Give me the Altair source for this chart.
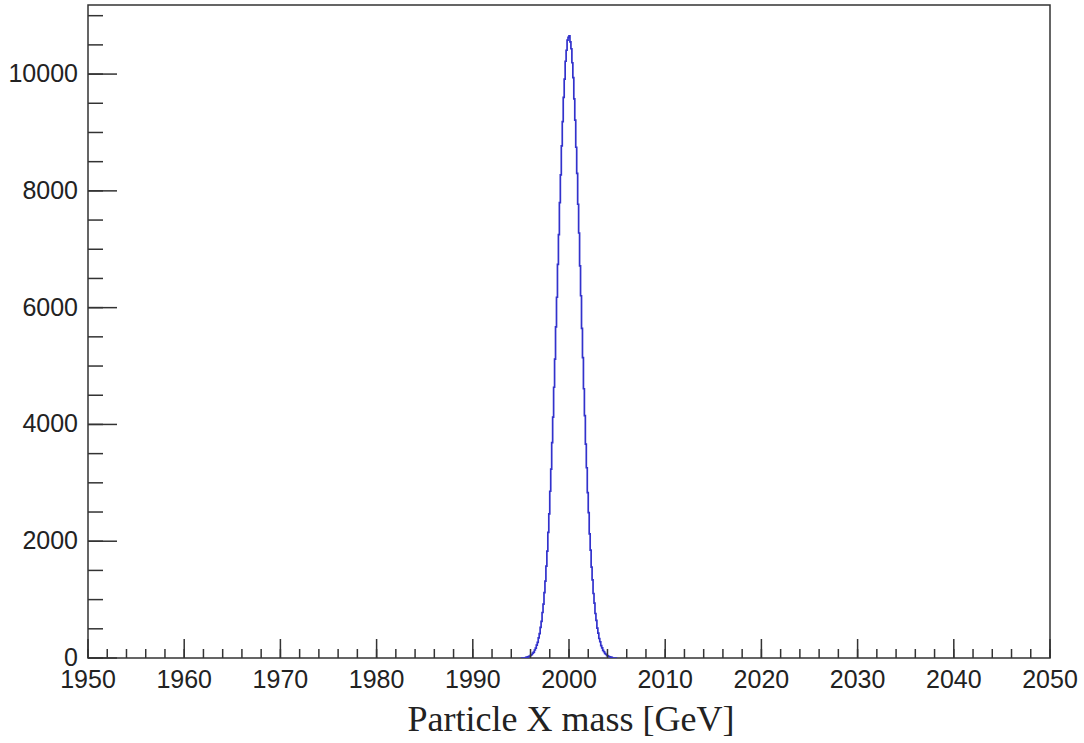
import altair as alt
import pandas as pd

# ---- data ----
first_edge = 1995.5
bin_width = 0.1
counts = [
    10, 16, 19, 29, 34, 49, 60, 84, 101, 137,
    168, 220, 268, 345, 416, 525, 628, 779, 922, 1121,
    1318, 1574, 1829, 2151, 2467, 2856, 3236, 3690, 4126, 4637,
    5118, 5671, 6178, 6742, 7251, 7798, 8274, 8772, 9185, 9601,
    9915, 10220, 10408, 10580, 10628,
    10655, 10553, 10434, 10194, 9940, 9574, 9211, 8747, 8299, 7771,
    7278, 6715, 6204, 5644, 5145, 4611, 4150, 3664, 3258, 2831,
    2488, 2127, 1848, 1555, 1337, 1105, 940, 762, 643, 512,
    427, 334, 278, 211, 175, 131, 107, 78, 64, 45,
    38, 25, 21, 14, 9,
]
x_major = [1950, 1960, 1970, 1980, 1990, 2000, 2010, 2020, 2030, 2040, 2050]
x_minor = [v for v in range(1950, 2051, 2)]
y_major = [0, 2000, 4000, 6000, 8000, 10000]
y_minor = [v for v in range(0, 11001, 500)]
x_domain = [1950, 2050]
y_domain = [0, 11183]
x_title = "Particle X mass [GeV]"

# ---- build the histogram outline ----
xs = [first_edge - 0.5] + [round(first_edge + bin_width * i, 2) for i in range(len(counts) + 1)] + [first_edge + bin_width * len(counts) + 0.5]
ys = [0] + counts + [0, 0]
hist = pd.DataFrame({"mass": xs, "count": ys})

xs_scale = alt.Scale(domain=x_domain, nice=False, zero=False)
ys_scale = alt.Scale(domain=y_domain, nice=False, zero=False)

axis_col = "#333333"
text_col = "#222222"
label_font = "Liberation Sans"
W, H = 962, 653

line = alt.Chart(hist).mark_line(
    interpolate="step-after", color="#3232cc", strokeWidth=1.7, clip=True
).encode(
    x=alt.X("mass:Q", scale=xs_scale, axis=None),
    y=alt.Y("count:Q", scale=ys_scale, axis=None),
)

def xticks(vals, length):
    df = pd.DataFrame({"tx": vals})
    return alt.Chart(df).mark_rule(color=axis_col, strokeWidth=1.5).encode(
        x=alt.X("tx:Q", scale=xs_scale, axis=None),
        y=alt.value(H), y2=alt.value(H - length),
    )

def yticks(vals, length):
    df = pd.DataFrame({"ty": vals})
    return alt.Chart(df).mark_rule(color=axis_col, strokeWidth=1.5).encode(
        y=alt.Y("ty:Q", scale=ys_scale, axis=None),
        x=alt.value(0), x2=alt.value(length),
    )

xlab = alt.Chart(pd.DataFrame({"lx": x_major, "txt": [str(v) for v in x_major]})).mark_text(
    font=label_font, fontSize=25, color=text_col, align="center", baseline="alphabetic"
).encode(
    x=alt.X("lx:Q", scale=xs_scale, axis=None),
    y=alt.value(H + 30),
    text="txt:N",
)

ylab = alt.Chart(pd.DataFrame({"ly": y_major, "txt": [str(v) for v in y_major]})).mark_text(
    font=label_font, fontSize=25, color=text_col, align="right", baseline="middle"
).encode(
    y=alt.Y("ly:Q", scale=ys_scale, axis=None),
    x=alt.value(-10),
    text="txt:N",
)

title = alt.Chart(pd.DataFrame({"t": [x_title]})).mark_text(
    font="Liberation Serif", fontSize=36, color=text_col, align="center", baseline="alphabetic"
).encode(
    x=alt.value(W / 2 + 2), y=alt.value(H + 73), text="t:N",
)

chart = alt.layer(
    line,
    xticks(x_minor, 9), xticks(x_major, 19),
    yticks(y_minor, 15), yticks(y_major, 29),
    xlab, ylab, title,
).properties(
    width=W, height=H,
    autosize=alt.AutoSizeParams(type="none"),
    padding={"left": 88, "top": 5, "right": 34, "bottom": 85},
    background="white",
).configure_view(stroke=axis_col, strokeWidth=1.5)

chart.save("out.html", embed_options={"renderer": "svg", "actions": False})
